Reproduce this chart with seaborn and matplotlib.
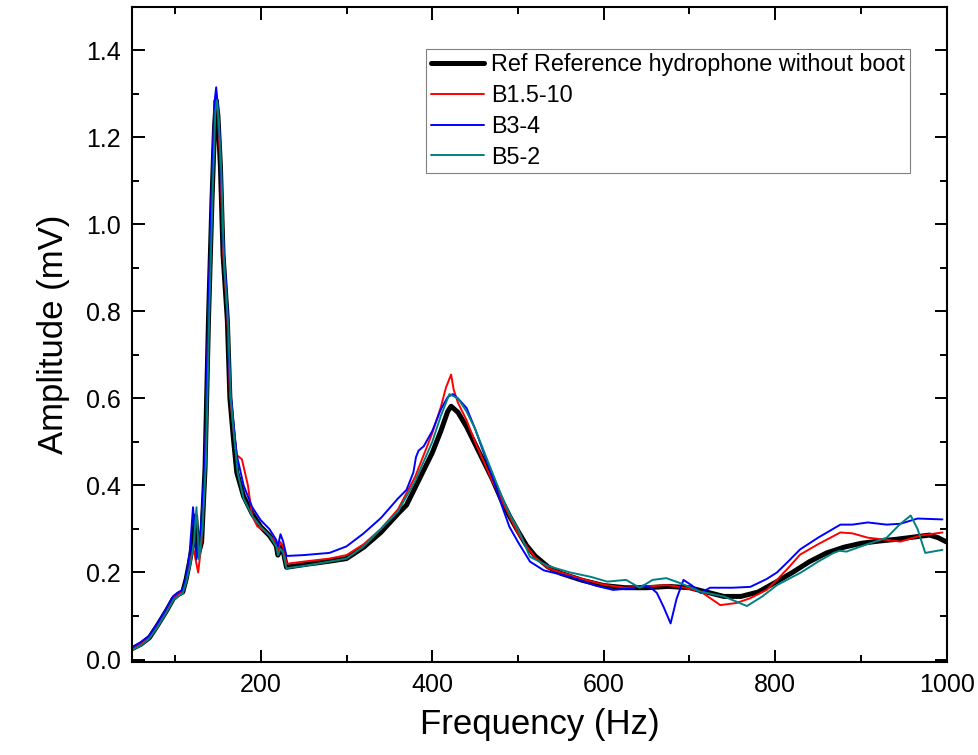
import numpy as np
import pandas as pd
import matplotlib
matplotlib.use("Agg")
import matplotlib.pyplot as plt
import seaborn as sns
from matplotlib.ticker import MultipleLocator

# values
ref_freq = [50, 60, 70, 80, 90, 98, 104, 109, 113, 117,
            121, 124, 127, 131, 135, 139, 143, 146, 148, 150,
            153, 156, 161, 164, 168, 172, 180, 190, 200, 210,
            218, 220, 223, 226, 230, 250, 280, 300, 320, 340,
            360, 370, 380, 390, 400, 410, 418, 422, 430, 440,
            450, 460, 470, 480, 490, 500, 510, 520, 535, 550,
            575, 600, 625, 650, 675, 700, 720, 740, 760, 780,
            800, 820, 840, 860, 880, 900, 920, 940, 960, 980,
            990, 1000]
ref_amp = [0.025, 0.035, 0.05, 0.08, 0.112, 0.14, 0.15, 0.155, 0.185, 0.225,
           0.27, 0.33, 0.24, 0.27, 0.44, 0.78, 1.05, 1.22, 1.285, 1.25,
           1.13, 0.93, 0.78, 0.60, 0.51, 0.43, 0.375, 0.335, 0.305, 0.285,
           0.262, 0.24, 0.258, 0.25, 0.212, 0.218, 0.226, 0.232, 0.258, 0.292,
           0.335, 0.355, 0.395, 0.435, 0.475, 0.525, 0.57, 0.582, 0.568, 0.535,
           0.495, 0.455, 0.415, 0.37, 0.33, 0.295, 0.262, 0.238, 0.213, 0.198,
           0.182, 0.17, 0.165, 0.165, 0.168, 0.165, 0.155, 0.145, 0.145, 0.155,
           0.177, 0.2, 0.225, 0.245, 0.258, 0.267, 0.272, 0.276, 0.281, 0.286,
           0.28, 0.27]

red_freq = [50, 60, 70, 80, 90, 98, 104, 109, 113, 117,
            122, 127, 131, 135, 139, 143, 146, 148, 150, 153,
            156, 161, 164, 168, 172, 178, 185, 190, 196, 205,
            218, 220, 223, 226, 230, 250, 280, 300, 320, 340,
            360, 380, 400, 410, 416, 422, 425, 430, 440, 450,
            460, 470, 480, 490, 500, 510, 520, 535, 550, 575,
            600, 625, 650, 674, 695, 713, 725, 736, 755, 771,
            790, 802, 815, 829, 850, 876, 890, 908, 930, 946,
            970, 995]
red_amp = [0.026, 0.036, 0.052, 0.082, 0.114, 0.142, 0.15, 0.156, 0.185, 0.23,
           0.25, 0.20, 0.27, 0.44, 0.80, 1.08, 1.27, 1.30, 1.25, 1.14,
           0.94, 0.79, 0.61, 0.53, 0.47, 0.46, 0.40, 0.33, 0.306, 0.295,
           0.27, 0.25, 0.27, 0.26, 0.22, 0.225, 0.232, 0.24, 0.265, 0.30,
           0.345, 0.42, 0.52, 0.58, 0.625, 0.655, 0.62, 0.59, 0.55, 0.50,
           0.455, 0.41, 0.37, 0.33, 0.29, 0.26, 0.235, 0.21, 0.20, 0.185,
           0.172, 0.165, 0.168, 0.171, 0.165, 0.156, 0.14, 0.125, 0.13, 0.141,
           0.16, 0.183, 0.21, 0.241, 0.265, 0.292, 0.29, 0.28, 0.275, 0.271,
           0.285, 0.292]

blue_freq = [50, 60, 70, 80, 90, 98, 104, 109, 113, 117,
             121, 125, 130, 135, 139, 143, 146, 148, 150, 153,
             156, 161, 164, 168, 172, 180, 190, 200, 210, 218,
             220, 223, 226, 230, 250, 280, 300, 320, 340, 360,
             370, 378, 381, 384, 390, 400, 410, 418, 424, 430,
             440, 450, 460, 470, 480, 490, 500, 514, 530, 561,
             590, 611, 630, 646, 655, 662, 670, 678, 685, 693,
             703, 713, 724, 750, 771, 790, 802, 815, 829, 850,
             876, 890, 908, 930, 946, 966, 995]
blue_amp = [0.028, 0.04, 0.055, 0.085, 0.118, 0.146, 0.155, 0.16, 0.19, 0.245,
            0.35, 0.23, 0.30, 0.46, 0.82, 1.10, 1.28, 1.315, 1.27, 1.17,
            0.97, 0.81, 0.63, 0.545, 0.47, 0.40, 0.35, 0.32, 0.30, 0.275,
            0.26, 0.288, 0.272, 0.238, 0.24, 0.245, 0.26, 0.29, 0.325, 0.37,
            0.39, 0.43, 0.465, 0.48, 0.49, 0.525, 0.575, 0.603, 0.61, 0.60,
            0.578, 0.53, 0.475, 0.42, 0.36, 0.305, 0.27, 0.225, 0.205, 0.19,
            0.17, 0.16, 0.163, 0.17, 0.165, 0.153, 0.12, 0.083, 0.14, 0.183,
            0.17, 0.153, 0.165, 0.165, 0.167, 0.185, 0.2, 0.225, 0.253, 0.28,
            0.31, 0.31, 0.315, 0.31, 0.312, 0.324, 0.322]

teal_freq = [50, 60, 70, 80, 90, 98, 104, 109, 113, 118,
             122, 125, 128, 132, 136, 140, 144, 147, 149, 151,
             154, 157, 162, 165, 169, 173, 180, 190, 200, 210,
             218, 220, 223, 226, 230, 250, 280, 300, 320, 340,
             360, 380, 400, 410, 420, 430, 440, 450, 460, 470,
             480, 490, 500, 514, 535, 561, 585, 604, 626, 642,
             657, 673, 690, 713, 740, 767, 785, 802, 830, 850,
             868, 875, 883, 900, 930, 945, 958, 966, 975, 995]
teal_amp = [0.022, 0.032, 0.048, 0.076, 0.108, 0.136, 0.146, 0.152, 0.178, 0.22,
            0.27, 0.35, 0.23, 0.30, 0.45, 0.80, 1.08, 1.26, 1.285, 1.24,
            1.12, 0.92, 0.77, 0.60, 0.51, 0.43, 0.37, 0.33, 0.305, 0.285,
            0.26, 0.24, 0.255, 0.245, 0.21, 0.215, 0.225, 0.232, 0.26, 0.30,
            0.34, 0.41, 0.50, 0.56, 0.61, 0.60, 0.57, 0.53, 0.48, 0.43,
            0.38, 0.335, 0.30, 0.236, 0.215, 0.2, 0.19, 0.179, 0.183, 0.165,
            0.183, 0.187, 0.175, 0.156, 0.145, 0.123, 0.145, 0.171, 0.2, 0.225,
            0.245, 0.25, 0.248, 0.26, 0.28, 0.31, 0.331, 0.3, 0.245, 0.252]

labels = ["Ref Reference hydrophone without boot", "B1.5-10", "B3-4", "B5-2"]
colors = ["black", "#FF0000", "#0000FF", "#008080"]
widths = [3.6, 1.4, 1.4, 1.4]

series = [(ref_freq, ref_amp), (red_freq, red_amp),
          (blue_freq, blue_amp), (teal_freq, teal_amp)]

sns.set_style("ticks")
plt.rcParams["font.family"] = ["Liberation Sans", "DejaVu Sans"]
plt.rcParams["text.color"] = "black"
plt.rcParams["axes.labelcolor"] = "black"

fig, ax = plt.subplots(figsize=(9.79, 7.55), dpi=100)
fig.subplots_adjust(left=0.135, right=0.967, bottom=0.123, top=0.991)

for (f, a), lab, c, lw in zip(series, labels, colors, widths):
    assert len(f) == len(a)
    df = pd.DataFrame({"freq": f, "amp": a})
    sns.lineplot(data=df, x="freq", y="amp", ax=ax, color=c,
                 linewidth=lw, label=lab)

ax.set_xlim(50, 1000)
ax.set_ylim(-0.006, 1.5)
ax.xaxis.set_major_locator(MultipleLocator(200))
ax.xaxis.set_minor_locator(MultipleLocator(100))
ax.yaxis.set_major_locator(MultipleLocator(0.2))
ax.yaxis.set_minor_locator(MultipleLocator(0.1))
ax.yaxis.set_major_formatter(matplotlib.ticker.FormatStrFormatter("%.1f"))

ax.tick_params(which="both", direction="in", top=True, right=True,
               width=1.4, labelsize=18, colors="black")
ax.tick_params(which="major", length=9, pad=8)
ax.tick_params(which="minor", length=5)
for sp in ax.spines.values():
    sp.set_linewidth(1.5)
    sp.set_color("black")

ax.set_xlabel("Frequency (Hz)", fontsize=25, labelpad=8)
ax.set_ylabel("Amplitude (mV)", fontsize=25, labelpad=12)

leg = ax.legend(loc="upper right", bbox_to_anchor=(0.955, 0.936),
                borderaxespad=0, fontsize=16.8, handlelength=2.3,
                handletextpad=0.3, borderpad=0.2, labelspacing=0.33,
                fancybox=False, framealpha=1, edgecolor="#808080")
leg.get_frame().set_linewidth(0.8)
for t in leg.get_texts():
    t.set_color("black")

fig.savefig("out.png", dpi=100)
